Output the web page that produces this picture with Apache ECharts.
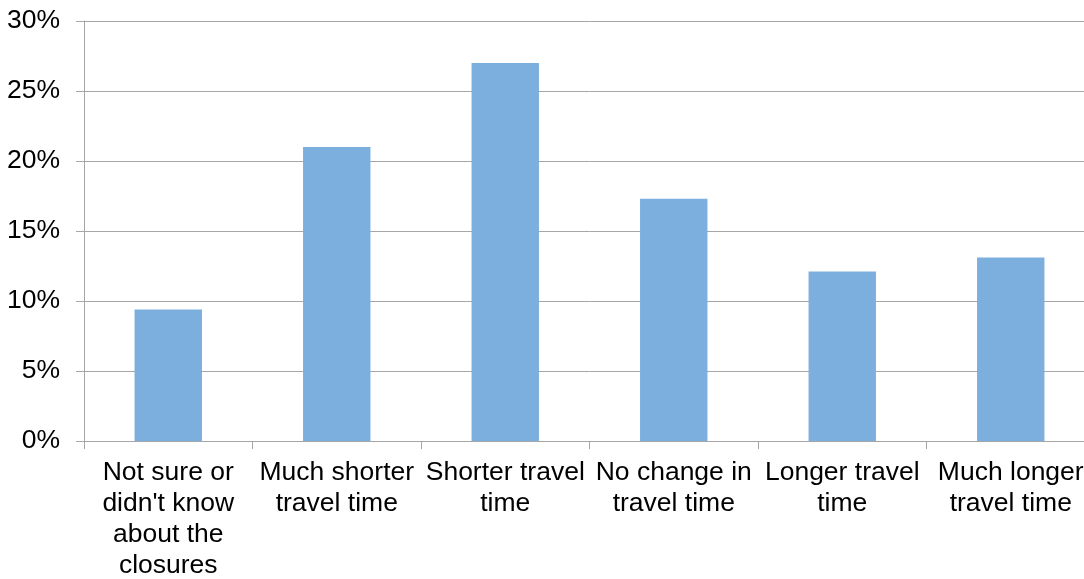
<!DOCTYPE html>
<html>
<head>
<meta charset="utf-8">
<script src="https://cdn.jsdelivr.net/npm/echarts@6/dist/echarts.min.js"></script>
<style>
  html, body { margin: 0; padding: 0; background: #fff; overflow: hidden; }
  #chart { width: 1095px; height: 579px; }
</style>
</head>
<body>
<div id="chart"></div>
<script>
let categories = [
    "Not sure or\ndidn't know\nabout the\nclosures",
    'Much shorter\ntravel time',
    'Shorter travel\ntime',
    'No change in\ntravel time',
    'Longer travel\ntime',
    'Much longer\ntravel time'
];
let shares = [9.4, 21.0, 27.0, 17.3, 12.1, 13.1];

let option = {
    animation: false,
    grid: { left: 84, right: 0, top: 21, bottom: 138, outerBoundsMode: 'none' },
    xAxis: {
        type: 'category',
        data: categories,
        axisLine: { lineStyle: { color: '#a6a6a6', width: 1 } },
        axisTick: { show: true, length: 8, lineStyle: { color: '#a6a6a6' } },
        axisLabel: {
            interval: 0,
            color: '#000',
            fontFamily: 'Liberation Sans, Arial',
            fontSize: 26.5,
            lineHeight: 31,
            margin: 16
        }
    },
    yAxis: {
        type: 'value',
        min: 0,
        max: 30,
        interval: 5,
        axisLine: { show: true, lineStyle: { color: '#a6a6a6', width: 1 } },
        axisTick: { show: true, length: 8, lineStyle: { color: '#a6a6a6' } },
        splitLine: { lineStyle: { color: '#a6a6a6', width: 1 } },
        axisLabel: {
            formatter: '{value}%',
            color: '#000',
            fontFamily: 'Liberation Sans, Arial',
            fontSize: 26.5,
            margin: 24
        }
    },
    series: [{
        type: 'bar',
        data: shares,
        barWidth: '40%',
        itemStyle: { color: '#7cafdd' }
    }]
};

let myChart = echarts.init(document.getElementById('chart'));
myChart.setOption(option);
</script>
</body>
</html>
